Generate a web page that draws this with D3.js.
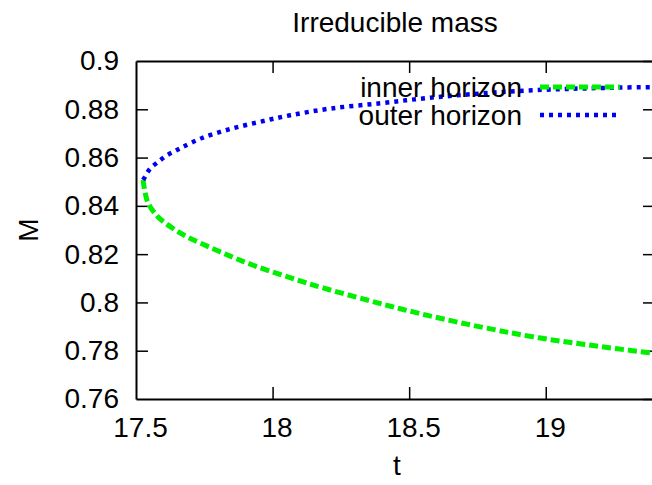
<!DOCTYPE html>
<html>
<head>
<meta charset="utf-8">
<script src="https://cdn.jsdelivr.net/npm/d3@7"></script>
<style>
  body { margin: 0; background: #fff; }
  text { font-family: "Liberation Sans", Arial, sans-serif; fill: #000; }
</style>
</head>
<body>
<div id="chart"></div>
<script>
/*************************************/
/* Data                              */
/*************************************/

// inner horizon (green, dashed)
const tInner = [17.526, 17.529, 17.533, 17.544, 17.581, 17.636, 17.690, 17.771, 17.855, 17.929,
                18.016, 18.101, 18.185, 18.346, 18.467, 18.588, 18.712, 18.822, 18.896, 19.016,
                19.137, 19.262, 19.400];
const mInner = [0.8507, 0.8482, 0.8457, 0.8412, 0.8354, 0.8306, 0.8270, 0.8228, 0.8187, 0.8154,
                0.8120, 0.8089, 0.8060, 0.8010, 0.7974, 0.7941, 0.7910, 0.7885, 0.7869, 0.7846,
                0.7827, 0.7808, 0.7789];

// outer horizon (blue, dotted)
const tOuter = [17.526, 17.533, 17.551, 17.581, 17.610, 17.643, 17.672, 17.742, 17.844, 17.954,
                18.064, 18.211, 18.394, 18.560, 18.734, 18.918, 19.100, 19.273, 19.400];
const mOuter = [0.8507, 0.8520, 0.8553, 0.8582, 0.8607, 0.8627, 0.8644, 0.8681, 0.8718, 0.8748,
                0.8775, 0.8803, 0.8825, 0.8846, 0.8863, 0.8877, 0.8885, 0.8890, 0.8892];

const xTicks = [17.5, 18, 18.5, 19];
const yTicks = [0.76, 0.78, 0.8, 0.82, 0.84, 0.86, 0.88, 0.9];

const seriesNames = ['inner horizon', 'outer horizon'];

/*************************************/
/* Layout                            */
/*************************************/

const width = 652;
const height = 485;
const plot = { left: 136, right: 655, top: 61, bottom: 399 };
const fontSize = 28;

const x = d3.scaleLinear().domain([17.5, 19.4]).range([plot.left, plot.right]);
const y = d3.scaleLinear().domain([0.76, 0.9]).range([plot.bottom, plot.top]);

const svg = d3.select('#chart')
  .append('svg')
  .attr('width', width)
  .attr('height', height);

svg.append('clipPath')
  .attr('id', 'clip')
  .append('rect')
    .attr('x', plot.left)
    .attr('y', plot.top)
    .attr('width', plot.right - plot.left)
    .attr('height', plot.bottom - plot.top);

// Title and axis labels
svg.append('text')
  .attr('x', 395).attr('y', 32)
  .attr('text-anchor', 'middle')
  .attr('font-size', fontSize)
  .text('Irreducible mass');

svg.append('text')
  .attr('x', 397).attr('y', 475)
  .attr('text-anchor', 'middle')
  .attr('font-size', fontSize)
  .text('t');

svg.append('text')
  .attr('transform', 'translate(38,230) rotate(-90)')
  .attr('text-anchor', 'middle')
  .attr('font-size', fontSize)
  .text('M');

/*************************************/
/* Axes (ticks on all four sides)    */
/*************************************/

const tickLen = 12;

const axisBottom = d3.axisBottom(x).tickValues(xTicks).tickSizeInner(-tickLen).tickSizeOuter(0)
  .tickPadding(18).tickFormat(d3.format('~g'));
const axisTop = d3.axisTop(x).tickValues(xTicks).tickSizeInner(-tickLen).tickSizeOuter(0).tickFormat('');
const axisLeft = d3.axisLeft(y).tickValues(yTicks).tickSizeInner(-tickLen).tickSizeOuter(0)
  .tickPadding(17).tickFormat(d3.format('~g'));
const axisRight = d3.axisRight(y).tickValues(yTicks).tickSizeInner(-tickLen).tickSizeOuter(0).tickFormat('');

const gB = svg.append('g').attr('transform', `translate(0,${plot.bottom})`).call(axisBottom);
const gT = svg.append('g').attr('transform', `translate(0,${plot.top})`).call(axisTop);
const gL = svg.append('g').attr('transform', `translate(${plot.left},0)`).call(axisLeft);
const gR = svg.append('g').attr('transform', `translate(${plot.right},0)`).call(axisRight);

[gB, gT, gL, gR].forEach(g => {
  g.selectAll('.domain').attr('stroke', '#000').attr('stroke-width', 2);
  g.selectAll('.tick line').attr('stroke', '#000').attr('stroke-width', 1.5);
  g.selectAll('.tick text')
    .attr('font-family', '"Liberation Sans", Arial, sans-serif')
    .attr('font-size', fontSize)
    .attr('fill', '#000');
});
gB.selectAll('.tick text').attr('dx', 4).attr('dy', '0.72em');
// ticks at the plot edges are not drawn by gnuplot
gT.selectAll('.tick').filter(d => d === 17.5).remove();
gB.selectAll('.tick line').filter(d => d === 17.5).remove();
gL.selectAll('.tick line').filter(d => d === 0.76 || d === 0.9).remove();

/*************************************/
/* Curves                            */
/*************************************/

const line = d3.line()
  .x(d => x(d[0]))
  .y(d => y(d[1]))
  .curve(d3.curveCatmullRom);

const inner = tInner.map((t, i) => [t, mInner[i]]);
const outer = tOuter.map((t, i) => [t, mOuter[i]]);

const styles = [
  { color: '#00f000', width: 5, dash: '9,4' },
  { color: '#0000f0', width: 4.5, dash: '4,5' }
];

const curves = svg.append('g').attr('clip-path', 'url(#clip)');
[inner, outer].forEach((data, i) => {
  curves.append('path')
    .datum(data)
    .attr('fill', 'none')
    .attr('stroke', styles[i].color)
    .attr('stroke-width', styles[i].width)
    .attr('stroke-dasharray', styles[i].dash)
    .attr('d', line);
});

/*************************************/
/* Legend                            */
/*************************************/

const legend = svg.append('g');
seriesNames.forEach((name, i) => {
  const ly = 87 + i * 28;
  legend.append('text')
    .attr('x', 522).attr('y', ly)
    .attr('dy', '0.35em')
    .attr('text-anchor', 'end')
    .attr('font-size', fontSize)
    .text(name);
  legend.append('line')
    .attr('x1', 540).attr('x2', 620)
    .attr('y1', ly).attr('y2', ly)
    .attr('stroke', styles[i].color)
    .attr('stroke-width', styles[i].width)
    .attr('stroke-dasharray', styles[i].dash);
});
</script>
</body>
</html>
